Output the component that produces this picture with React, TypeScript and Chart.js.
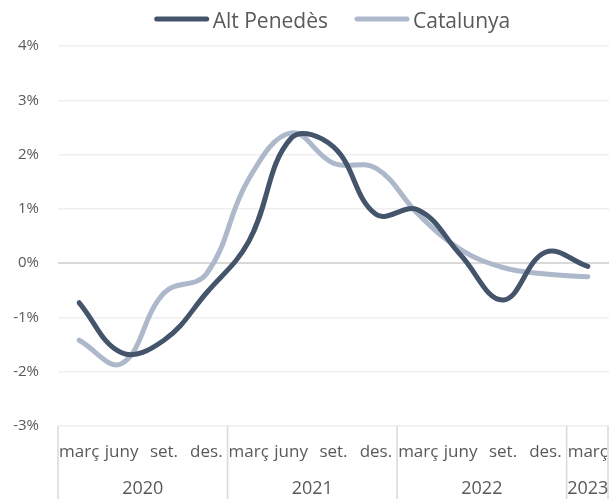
import React, { useEffect, useRef } from 'react';
import { Chart, registerables } from 'chart.js';

Chart.register(...registerables);

const months = ['març', 'juny', 'set.', 'des.', 'març', 'juny', 'set.', 'des.', 'març', 'juny', 'set.', 'des.', 'març'];
const years = ['2020', '2020', '2020', '2020', '2021', '2021', '2021', '2021', '2022', '2022', '2022', '2022', '2023'];
const altPenedes = [-0.73, -1.65, -1.42, -0.55, 0.4, 2.3, 2.14, 0.9, 0.98, 0.15, -0.68, 0.2, -0.06];
const catalunya = [-1.42, -1.85, -0.55, -0.2, 1.55, 2.4, 1.84, 1.75, 0.9, 0.25, -0.08, -0.2, -0.25];
const yMin = -3;
const yMax = 4;
const yStep = 1;

const FONT = '"Open Sans", Lato, sans-serif';
const TEXT = '#595959';

const groupAxisPlugin = {
  id: 'groupAxis',
  afterDraw(chart: any) {
    const { ctx, chartArea, scales } = chart;
    const x = scales.x;
    const n = months.length;
    const w = (x.right - x.left) / n;
    const bottom = chart.height;
    ctx.save();
    ctx.fillStyle = TEXT;
    ctx.textAlign = 'center';
    ctx.textBaseline = 'middle';
    ctx.font = '17px ' + FONT;
    months.forEach((m, i) => {
      ctx.fillText(m, x.getPixelForValue(i), chartArea.bottom + 26);
    });
    const groups: { label: string; start: number; end: number }[] = [];
    years.forEach((y, i) => {
      const g = groups[groups.length - 1];
      if (g && g.label === y) g.end = i;
      else groups.push({ label: y, start: i, end: i });
    });
    ctx.strokeStyle = '#d9d9d9';
    ctx.lineWidth = 1.5;
    const bounds = new Set<number>();
    groups.forEach((g) => {
      bounds.add(g.start);
      bounds.add(g.end + 1);
    });
    bounds.forEach((b) => {
      let px = x.left + b * w;
      if (b === n) px -= 1;
      ctx.beginPath();
      ctx.moveTo(px, chartArea.bottom);
      ctx.lineTo(px, bottom);
      ctx.stroke();
    });
    ctx.font = '18px ' + FONT;
    groups.forEach((g) => {
      const cx = x.left + ((g.start + g.end + 1) / 2) * w;
      ctx.fillText(g.label, cx, chartArea.bottom + 63);
    });
    ctx.restore();
  },
};

const lineLegendPlugin = {
  id: 'lineLegend',
  afterDraw(chart: any) {
    const { ctx, chartArea } = chart;
    const lineLen = 50;
    const textGap = 6;
    const itemGap = 29;
    ctx.save();
    ctx.font = '21px ' + FONT;
    const items = chart.data.datasets.map((d: any) => ({
      label: d.label,
      color: d.borderColor,
      tw: ctx.measureText(d.label).width,
    }));
    const total =
      items.reduce((s: number, it: any) => s + lineLen + textGap + it.tw, 0) + itemGap * (items.length - 1);
    let cx = (chartArea.left + chartArea.right) / 2 - total / 2;
    items.forEach((it: any) => {
      ctx.strokeStyle = it.color;
      ctx.lineWidth = 5;
      ctx.lineCap = 'round';
      ctx.beginPath();
      ctx.moveTo(cx, 19);
      ctx.lineTo(cx + lineLen, 19);
      ctx.stroke();
      ctx.fillStyle = TEXT;
      ctx.textAlign = 'left';
      ctx.textBaseline = 'middle';
      ctx.fillText(it.label, cx + lineLen + textGap, 22);
      cx += lineLen + textGap + it.tw + itemGap;
    });
    ctx.restore();
  },
};

export default function App() {
  const ref = useRef<HTMLCanvasElement | null>(null);
  useEffect(() => {
    if (!ref.current) return;
    const chart = new Chart(ref.current, {
      type: 'line',
      data: {
        labels: months.map((m, i) => m + ' ' + years[i]),
        datasets: [
          {
            label: 'Alt Penedès',
            data: altPenedes,
            borderColor: '#44546a',
            backgroundColor: '#44546a',
            borderWidth: 5,
            borderCapStyle: 'round',
            tension: 0.4,
            pointRadius: 0,
            pointHoverRadius: 0,
          },
          {
            label: 'Catalunya',
            data: catalunya,
            borderColor: '#adb9ca',
            backgroundColor: '#adb9ca',
            borderWidth: 5,
            borderCapStyle: 'round',
            tension: 0.4,
            pointRadius: 0,
            pointHoverRadius: 0,
          },
        ],
      },
      options: {
        responsive: true,
        maintainAspectRatio: false,
        animation: false,
        layout: { padding: { right: 1, top: 46, bottom: 0, left: 0 } },
        plugins: {
          tooltip: { enabled: false },
          legend: { display: false },
        },
        scales: {
          x: {
            offset: true,
            grid: { display: false },
            border: { display: false },
            ticks: { display: false },
            afterFit: (s: any) => {
              s.height = 73;
            },
          },
          y: {
            min: yMin,
            max: yMax,
            ticks: {
              stepSize: yStep,
              padding: 19,
              color: TEXT,
              font: { family: FONT, size: 15 },
              callback: (v: any) => v + '%',
            },
            grid: {
              drawTicks: false,
              color: (c: any) => (c.tick && c.tick.value === 0 ? '#d9d9d9' : '#efefef'),
              lineWidth: (c: any) => (c.tick && c.tick.value === 0 ? 2 : 1.5),
            },
            border: { display: false },
            afterFit: (s: any) => {
              s.width = 58;
            },
          },
        },
      },
      plugins: [groupAxisPlugin, lineLegendPlugin],
    });
    return () => chart.destroy();
  }, []);
  return (
    <div style={{ position: 'absolute', left: 0, top: 0, width: 610, height: 499 }}>
      <canvas ref={ref} />
    </div>
  );
}
